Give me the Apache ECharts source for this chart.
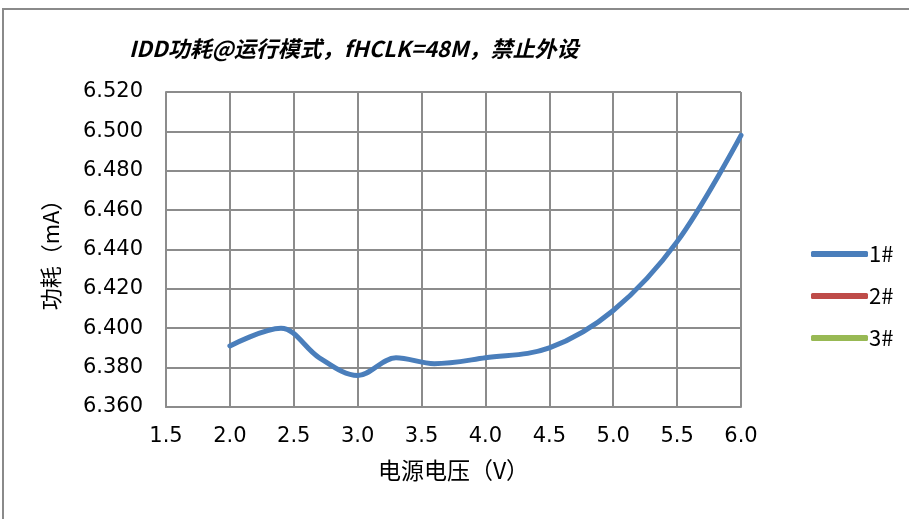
<!DOCTYPE html>
<html><head><meta charset="utf-8">
<script src="https://cdn.jsdelivr.net/npm/echarts@6/dist/echarts.min.js"></script>
<style>html,body{margin:0;padding:0;background:#fff}#c{width:909px;height:519px}</style>
</head><body><div id="c"></div>
<script>
const titleText = 'IDD功耗@运行模式，fHCLK=48M，禁止外设';
const xAxisName = '电源电压（V）';
const yAxisName = '功耗（mA）';
const seriesNames = ['1#', '2#', '3#'];
const seriesColors = ['#4A7EBB', '#BE4B48', '#98B954'];
const voltage = [2.0, 2.4, 2.7, 3.0, 3.3, 3.6, 4.0, 4.5, 5.0, 5.5, 6.0];
const current1 = [6.391, 6.400, 6.385, 6.376, 6.385, 6.382, 6.385, 6.390, 6.409, 6.444, 6.498];
const current2 = [];
const current3 = [];
const font = '"Noto Sans CJK SC", "Noto Sans", sans-serif';
const numFont = '"DejaVu Sans", sans-serif';

const chart = echarts.init(document.getElementById('c'));
const allData = [current1, current2, current3];
chart.setOption({
  animation: false,
  backgroundColor: '#fff',
  title: {
    text: titleText, left: 124, top: 33,
    textStyle: {fontFamily: font, fontSize: 22, fontWeight: 'bold', fontStyle: 'italic', color: '#000'}
  },
  graphic: [{type: 'rect', shape: {x: 3, y: 9, width: 930, height: 530}, style: {fill: 'none', stroke: '#8a8a8a', lineWidth: 2}, silent: true}],
  legend: {
    orient: 'vertical', left: 806, top: 238, itemGap: 20, itemWidth: 57, itemHeight: 6,
    icon: 'roundRect',
    textStyle: {fontFamily: font, fontSize: 22, color: '#000', padding: [0, 0, 0, -4]},
    data: seriesNames
  },
  grid: {left: 166, right: 168, top: 92, bottom: 112, containLabel: false},
  xAxis: {
    type: 'value', min: 1.5, max: 6.0, interval: 0.5,
    name: xAxisName, nameLocation: 'middle', nameGap: 52,
    nameTextStyle: {fontFamily: font, fontSize: 23, color: '#000'},
    axisLine: {show: true, lineStyle: {color: '#8c8c8c', width: 2}},
    axisTick: {show: false},
    axisLabel: {fontFamily: numFont, fontSize: 21, color: '#000', margin: 19, formatter: v => v.toFixed(1)},
    splitLine: {show: true, lineStyle: {color: '#8c8c8c', width: 2}}
  },
  yAxis: {
    type: 'value', min: 6.36, max: 6.52, interval: 0.02,
    name: yAxisName, nameLocation: 'middle', nameGap: 104, nameRotate: 90,
    nameTextStyle: {fontFamily: font, fontSize: 22, color: '#000'},
    axisLine: {show: true, lineStyle: {color: '#8c8c8c', width: 2}},
    axisTick: {show: false},
    axisLabel: {fontFamily: numFont, fontSize: 21, color: '#000', margin: 23, formatter: v => v.toFixed(3)},
    splitLine: {show: true, lineStyle: {color: '#8c8c8c', width: 2}}
  },
  series: seriesNames.map((n, i) => ({
    name: n, type: 'line', smooth: 0.35, showSymbol: false, symbol: 'none',
    data: allData[i].map((v, j) => [voltage[j], v]),
    itemStyle: {color: seriesColors[i]},
    lineStyle: {color: seriesColors[i], width: 5, cap: 'round'}
  }))
});
</script></body></html>
